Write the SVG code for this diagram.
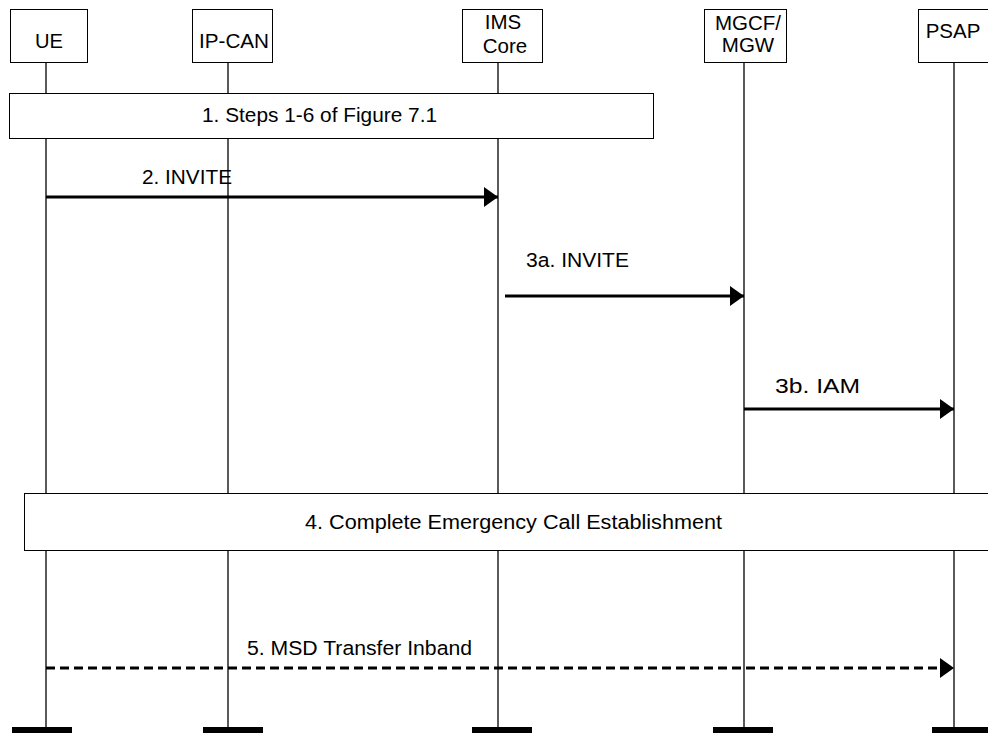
<svg xmlns="http://www.w3.org/2000/svg" width="988" height="733" viewBox="0 0 988 733">
<style>
text{font-family:"Liberation Sans",Arial,sans-serif;font-size:20.5px;fill:#000}
.box{fill:#fff;stroke:#000;stroke-width:1}
.life{stroke:#000;stroke-width:1.3;fill:none}
.msg{stroke:#000;stroke-width:3;fill:none}
.dash{stroke-dasharray:9 5}
.bar{fill:#000}
</style>
<defs>
<marker id="ah" markerUnits="userSpaceOnUse" markerWidth="15" markerHeight="20" refX="14" refY="10" orient="auto">
<path d="M0,0 L14,10 L0,20 Z" fill="#000"/>
</marker>
</defs>
<rect width="988" height="733" fill="#fff"/>
<g id="lifelines">
<line class="life" x1="46" y1="63" x2="46" y2="727"/>
<line class="life" x1="228" y1="62" x2="228" y2="727"/>
<line class="life" x1="498" y1="62" x2="498" y2="727"/>
<line class="life" x1="744" y1="62" x2="744" y2="727"/>
<line class="life" x1="954" y1="62" x2="954" y2="727"/>
<rect class="bar" x="12" y="727" width="60" height="6"/>
<rect class="bar" x="203" y="727" width="60" height="6"/>
<rect class="bar" x="472" y="727" width="60" height="6"/>
<rect class="bar" x="713" y="727" width="60" height="6"/>
<rect class="bar" x="932" y="727" width="60" height="6"/>
</g>
<g id="UE"><rect class="box" x="10.5" y="9.5" width="77" height="53"/><text x="49" y="48" text-anchor="middle" textLength="28" lengthAdjust="spacingAndGlyphs">UE</text></g>
<g id="IPCAN"><rect class="box" x="192.5" y="9.5" width="80" height="53"/><text x="234" y="48" text-anchor="middle" textLength="70" lengthAdjust="spacingAndGlyphs">IP-CAN</text></g>
<g id="IMS"><rect class="box" x="462.5" y="9.5" width="80" height="53"/><text x="503" y="29" text-anchor="middle">IMS</text><text x="505" y="53" text-anchor="middle">Core</text></g>
<g id="MGCF"><rect class="box" x="704.5" y="9.5" width="82" height="53"/><text x="748" y="30" text-anchor="middle">MGCF/</text><text x="748" y="52" text-anchor="middle">MGW</text></g>
<g id="PSAP"><rect class="box" x="918.5" y="9.5" width="80" height="53"/><text x="953" y="38" text-anchor="middle">PSAP</text></g>
<g id="step1"><rect class="box" x="9.5" y="93.5" width="644" height="45"/><text x="202" y="122" textLength="235" lengthAdjust="spacingAndGlyphs">1. Steps 1-6 of Figure 7.1</text></g>
<g id="step4"><rect class="box" x="24.5" y="493.5" width="970" height="57"/><text x="305" y="529" textLength="417" lengthAdjust="spacingAndGlyphs">4. Complete Emergency Call Establishment</text></g>
<g id="connectors">
<line class="msg" x1="46" y1="197" x2="498" y2="197" marker-end="url(#ah)"/>
<text x="142" y="184" textLength="90" lengthAdjust="spacingAndGlyphs">2. INVITE</text>
<line class="msg" x1="505" y1="296" x2="744" y2="296" marker-end="url(#ah)"/>
<text x="526" y="267" textLength="103" lengthAdjust="spacingAndGlyphs">3a. INVITE</text>
<line class="msg" x1="744" y1="409" x2="954" y2="409" marker-end="url(#ah)"/>
<text x="775" y="393" textLength="85" lengthAdjust="spacingAndGlyphs">3b. IAM</text>
<line class="msg dash" x1="46" y1="668" x2="954" y2="668" marker-end="url(#ah)"/>
<text x="247" y="655" textLength="225" lengthAdjust="spacingAndGlyphs">5. MSD Transfer Inband</text>
</g>
</svg>
